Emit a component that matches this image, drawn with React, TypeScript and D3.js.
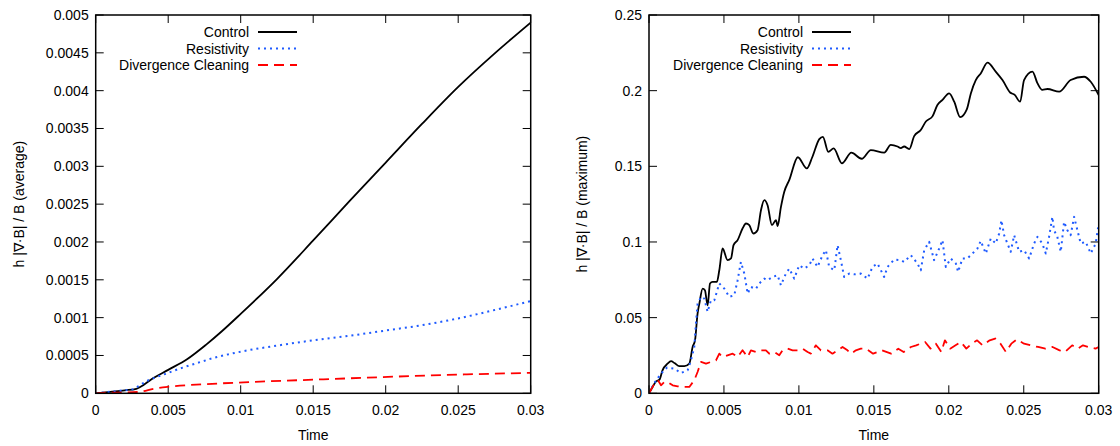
import React from 'react';
import * as d3 from 'd3';

// ---------- Left panel: average ----------
const avgControlT = [0, 0.001, 0.002, 0.0028, 0.0033, 0.0038, 0.005, 0.0063, 0.0076, 0.0087, 0.01, 0.0125, 0.015, 0.0175, 0.02, 0.0225, 0.025, 0.0275, 0.03];
const avgControlV = [0, 0.00002, 0.00004, 0.00006, 0.00011, 0.00018, 0.00031, 0.00045, 0.00064, 0.00082, 0.00105, 0.00151, 0.00202, 0.00254, 0.00305, 0.00356, 0.00405, 0.00449, 0.0049];
const avgResT = [0, 0.001, 0.002, 0.0025, 0.003, 0.0035, 0.004, 0.005, 0.006, 0.007, 0.008, 0.01, 0.0125, 0.015, 0.0175, 0.02, 0.0225, 0.025, 0.0275, 0.03];
const avgResV = [0, 0.00002, 0.00004, 0.00005, 0.0001, 0.00016, 0.0002, 0.00027, 0.00034, 0.0004, 0.00046, 0.00055, 0.00063, 0.0007, 0.00076, 0.00083, 0.0009, 0.00099, 0.0011, 0.00122];
const avgDivT = [0, 0.001, 0.002, 0.00306, 0.004, 0.00503, 0.0075, 0.0102, 0.0157, 0.0206, 0.0256, 0.03];
const avgDivV = [0, 0.00001, 0.00001, 0.00002, 0.00006, 0.000087, 0.00012, 0.000145, 0.000185, 0.00022, 0.00025, 0.00027];

// ---------- Right panel: maximum ----------
const maxControlT = [0, 0.00024, 0.00047, 0.0007, 0.0009, 0.00124, 0.00147, 0.0017, 0.00202, 0.00236, 0.00269, 0.00291, 0.00307, 0.00324, 0.00336, 0.00358, 0.00373, 0.00391, 0.00407, 0.00424, 0.00453, 0.00469, 0.00491, 0.00524, 0.00547, 0.00564, 0.00591, 0.00624, 0.00647, 0.00669, 0.00696, 0.00724, 0.00747, 0.00769, 0.00791, 0.0082, 0.00847, 0.00858, 0.0088, 0.00902, 0.00936, 0.00993, 0.01053, 0.01089, 0.01136, 0.0116, 0.01196, 0.01232, 0.01287, 0.0135, 0.01419, 0.0148, 0.01569, 0.01613, 0.01658, 0.0168, 0.01702, 0.01736, 0.01769, 0.01813, 0.01847, 0.01891, 0.01924, 0.01958, 0.02002, 0.02036, 0.02076, 0.0212, 0.02147, 0.0218, 0.02213, 0.02258, 0.02313, 0.02358, 0.02409, 0.0244, 0.02476, 0.02502, 0.02558, 0.02591, 0.02624, 0.02658, 0.02736, 0.02813, 0.02902, 0.02947, 0.03];
const maxControlV = [0, 0.0042, 0.0079, 0.009, 0.0152, 0.0196, 0.0212, 0.02, 0.0179, 0.0179, 0.0196, 0.0306, 0.035, 0.0527, 0.0593, 0.0692, 0.0681, 0.0582, 0.0726, 0.0737, 0.0737, 0.0813, 0.0957, 0.088, 0.0891, 0.0979, 0.1012, 0.1089, 0.1122, 0.1111, 0.1056, 0.1078, 0.121, 0.1276, 0.1243, 0.1111, 0.1144, 0.1105, 0.123, 0.133, 0.141, 0.156, 0.1486, 0.156, 0.168, 0.1695, 0.1596, 0.1618, 0.152, 0.159, 0.155, 0.1607, 0.1591, 0.1642, 0.1631, 0.162, 0.1631, 0.1614, 0.17, 0.174, 0.1796, 0.183, 0.1905, 0.1939, 0.1982, 0.1927, 0.1825, 0.1876, 0.1982, 0.207, 0.2114, 0.2185, 0.2126, 0.207, 0.1988, 0.1972, 0.1927, 0.207, 0.2126, 0.205, 0.2005, 0.2011, 0.1993, 0.207, 0.2092, 0.2059, 0.197];

const maxResT = [0, 0.0003, 0.0008, 0.0012, 0.0017, 0.00213, 0.00258, 0.0028, 0.00302, 0.00313, 0.00324, 0.00347, 0.00369, 0.00391, 0.00413, 0.00436, 0.00469, 0.00502, 0.00536, 0.00569, 0.00591, 0.00613, 0.00636, 0.00658, 0.0068, 0.00713, 0.00736, 0.00769, 0.00791, 0.00824, 0.00858, 0.0088, 0.00913, 0.00936, 0.00969, 0.01002, 0.01036, 0.01069, 0.01091, 0.01124, 0.01158, 0.0118, 0.01202, 0.01236, 0.01258, 0.0128, 0.01302, 0.01336, 0.01369, 0.01413, 0.01458, 0.01491, 0.01524, 0.01569, 0.01591, 0.01636, 0.0168, 0.01702, 0.01747, 0.01791, 0.01813, 0.01836, 0.01869, 0.01902, 0.01936, 0.01958, 0.0198, 0.02013, 0.02047, 0.02062, 0.02091, 0.02124, 0.02158, 0.02191, 0.02213, 0.02247, 0.0228, 0.02313, 0.02336, 0.02351, 0.02369, 0.02391, 0.02413, 0.02436, 0.02469, 0.02502, 0.02536, 0.02569, 0.02591, 0.02624, 0.02647, 0.02669, 0.02691, 0.02702, 0.02724, 0.02747, 0.02769, 0.02791, 0.02813, 0.02836, 0.02858, 0.0288, 0.02913, 0.02947, 0.0298, 0.03];
const maxResV = [0, 0.006, 0.013, 0.017, 0.0163, 0.0134, 0.0152, 0.0218, 0.0306, 0.046, 0.059, 0.0637, 0.0626, 0.0538, 0.0615, 0.0615, 0.0726, 0.0692, 0.0637, 0.0648, 0.0747, 0.0868, 0.0791, 0.0659, 0.0703, 0.069, 0.0726, 0.0758, 0.0747, 0.0769, 0.078, 0.0714, 0.0791, 0.0824, 0.0758, 0.0846, 0.0824, 0.0846, 0.0891, 0.0835, 0.0913, 0.0946, 0.0835, 0.0813, 0.0979, 0.088, 0.0769, 0.0791, 0.0786, 0.0791, 0.0758, 0.0835, 0.0858, 0.0769, 0.0835, 0.0884, 0.088, 0.0868, 0.0913, 0.0858, 0.0813, 0.0946, 0.1001, 0.088, 0.0957, 0.1012, 0.0835, 0.0891, 0.0858, 0.0802, 0.0891, 0.0891, 0.0924, 0.0957, 0.1007, 0.0924, 0.1023, 0.099, 0.1056, 0.1144, 0.1045, 0.099, 0.0935, 0.1045, 0.0935, 0.0946, 0.0891, 0.099, 0.1034, 0.099, 0.0924, 0.1034, 0.1166, 0.1078, 0.1034, 0.0935, 0.1133, 0.1078, 0.1045, 0.1166, 0.1078, 0.099, 0.1001, 0.0924, 0.099, 0.1122];

const maxDivT = [0, 0.00036, 0.0006, 0.0008, 0.00102, 0.00124, 0.00158, 0.00191, 0.00236, 0.00269, 0.00302, 0.00324, 0.00347, 0.0038, 0.00413, 0.00447, 0.00469, 0.00491, 0.00524, 0.00558, 0.00591, 0.00624, 0.00658, 0.0068, 0.00713, 0.00747, 0.0078, 0.00802, 0.00836, 0.00869, 0.00891, 0.00924, 0.00958, 0.00991, 0.01024, 0.01058, 0.0108, 0.01113, 0.01147, 0.01191, 0.01224, 0.01258, 0.01291, 0.01324, 0.01347, 0.0138, 0.01413, 0.01447, 0.01495, 0.01555, 0.01615, 0.01663, 0.01699, 0.01747, 0.01782, 0.01842, 0.01878, 0.01914, 0.0195, 0.01974, 0.02009, 0.02045, 0.02081, 0.02117, 0.02153, 0.02189, 0.02225, 0.02273, 0.02309, 0.02345, 0.02381, 0.02417, 0.02453, 0.02502, 0.02548, 0.02596, 0.02644, 0.02692, 0.02739, 0.02775, 0.02823, 0.02859, 0.02895, 0.02931, 0.02979, 0.03];
const maxDivV = [0, 0.0064, 0.0086, 0.0053, 0.0075, 0.0075, 0.0053, 0.0046, 0.0042, 0.0042, 0.0086, 0.0141, 0.0207, 0.0196, 0.0207, 0.0218, 0.0262, 0.024, 0.0251, 0.0262, 0.024, 0.0284, 0.024, 0.0284, 0.0273, 0.0284, 0.0284, 0.0262, 0.0273, 0.0251, 0.0284, 0.0295, 0.0284, 0.0284, 0.0295, 0.0273, 0.0262, 0.0317, 0.0284, 0.0284, 0.0262, 0.0284, 0.0306, 0.0284, 0.0262, 0.0284, 0.0295, 0.0295, 0.0262, 0.0284, 0.0262, 0.0295, 0.0273, 0.0306, 0.0317, 0.0339, 0.0295, 0.0328, 0.0273, 0.035, 0.0295, 0.0317, 0.0339, 0.0295, 0.0328, 0.035, 0.0317, 0.035, 0.0362, 0.0328, 0.0273, 0.0328, 0.0356, 0.0328, 0.0317, 0.0306, 0.0295, 0.0306, 0.0284, 0.0273, 0.0317, 0.0295, 0.0317, 0.0306, 0.0295, 0.0306];

const seriesNames = ['Control', 'Resistivity', 'Divergence Cleaning'];
const xTicks = [0, 0.005, 0.01, 0.015, 0.02, 0.025, 0.03];
const avgYTicks = [0, 0.0005, 0.001, 0.0015, 0.002, 0.0025, 0.003, 0.0035, 0.004, 0.0045, 0.005];
const maxYTicks = [0, 0.05, 0.1, 0.15, 0.2, 0.25];
const xTitle = 'Time';
const avgYTitle = 'h |\u2207\u00B7B| / B (average)';
const maxYTitle = 'h |\u2207\u00B7B| / B (maximum)';

const STYLES = [
  { color: '#000000', dash: 'none', width: 1.8 },
  { color: '#1f5bff', dash: '2,4', width: 2 },
  { color: '#ff0000', dash: '10,6', width: 1.8 },
];

const FONT = '"Liberation Sans", Arial, sans-serif';

type PanelProps = {
  x0: number; x1: number; y0: number; y1: number;
  yMax: number; yTicks: number[]; yDigits: number;
  yTitle: string; yTitleX: number;
  series: { t: number[]; v: number[]; smooth: boolean }[];
  legendX: number;
};

function fmt(v: number, d: number) {
  return String(+v.toFixed(d));
}

function Panel(p: PanelProps) {
  const x = d3.scaleLinear().domain([0, 0.03]).range([p.x0, p.x1]);
  const y = d3.scaleLinear().domain([0, p.yMax]).range([p.y1, p.y0]);
  const tickLen = 8;
  return (
    <g fontFamily={FONT} fontSize={14} fill="#000">
      <defs>
        <clipPath id={`clip${p.x0}`}>
          <rect x={p.x0} y={p.y0} width={p.x1 - p.x0} height={p.y1 - p.y0} />
        </clipPath>
      </defs>
      {xTicks.map((t, i) => (
        <g key={'xt' + i}>
          <line x1={x(t)} x2={x(t)} y1={p.y1} y2={p.y1 - tickLen} stroke="#000" strokeWidth={1} />
          <line x1={x(t)} x2={x(t)} y1={p.y0} y2={p.y0 + tickLen} stroke="#000" strokeWidth={1} />
          <text x={x(t)} y={p.y1 + 22} textAnchor="middle">{fmt(t, 3)}</text>
        </g>
      ))}
      {p.yTicks.map((t, i) => (
        <g key={'yt' + i}>
          <line x1={p.x0} x2={p.x0 + tickLen} y1={y(t)} y2={y(t)} stroke="#000" strokeWidth={1} />
          <line x1={p.x1} x2={p.x1 - tickLen} y1={y(t)} y2={y(t)} stroke="#000" strokeWidth={1} />
          <text x={p.x0 - 7} y={y(t) + 5} textAnchor="end">{fmt(t, p.yDigits)}</text>
        </g>
      ))}
      <g clipPath={`url(#clip${p.x0})`}>
        {p.series.map((s, i) => {
          const pts: [number, number][] = s.t.map((t, k) => [x(t), y(s.v[k])]);
          const line = d3.line().curve(s.smooth ? d3.curveMonotoneX : d3.curveLinear);
          const st = STYLES[i];
          return (
            <path key={'s' + i} d={line(pts) || ''} fill="none" stroke={st.color}
              strokeWidth={st.width} strokeDasharray={st.dash} strokeLinejoin="round" />
          );
        })}
      </g>
      <rect x={p.x0} y={p.y0} width={p.x1 - p.x0} height={p.y1 - p.y0} fill="none" stroke="#000" strokeWidth={1.5} />
      <text x={(p.x0 + p.x1) / 2} y={p.y1 + 47} textAnchor="middle">{xTitle}</text>
      <text transform={`translate(${p.yTitleX},${(p.y0 + p.y1) / 2}) rotate(-90)`} textAnchor="middle" dy="0.35em">{p.yTitle}</text>
      {seriesNames.map((n, i) => {
        const ly = 32 + i * 16.5;
        const st = STYLES[i];
        return (
          <g key={'lg' + i}>
            <text x={p.legendX} y={ly + 5} textAnchor="end">{n}</text>
            <line x1={p.legendX + 9} x2={p.legendX + 48} y1={ly} y2={ly} stroke={st.color}
              strokeWidth={st.width} strokeDasharray={st.dash} />
          </g>
        );
      })}
    </g>
  );
}

export default function App() {
  return (
    <svg width={1120} height={446} style={{ position: 'absolute', left: 0, top: 0, background: '#fff' }}>
      <rect width={1120} height={446} fill="#fff" />
      <Panel x0={95.7} x1={530.7} y0={15} y1={393.3} yMax={0.005} yTicks={avgYTicks} yDigits={4}
        yTitle={avgYTitle} yTitleX={19} legendX={249}
        series={[
          { t: avgControlT, v: avgControlV, smooth: true },
          { t: avgResT, v: avgResV, smooth: true },
          { t: avgDivT, v: avgDivV, smooth: true },
        ]} />
      <Panel x0={649} x1={1098.7} y0={15} y1={393.3} yMax={0.25} yTicks={maxYTicks} yDigits={2}
        yTitle={maxYTitle} yTitleX={582} legendX={803}
        series={[
          { t: maxControlT, v: maxControlV, smooth: true },
          { t: maxResT, v: maxResV, smooth: false },
          { t: maxDivT, v: maxDivV, smooth: false },
        ]} />
    </svg>
  );
}
